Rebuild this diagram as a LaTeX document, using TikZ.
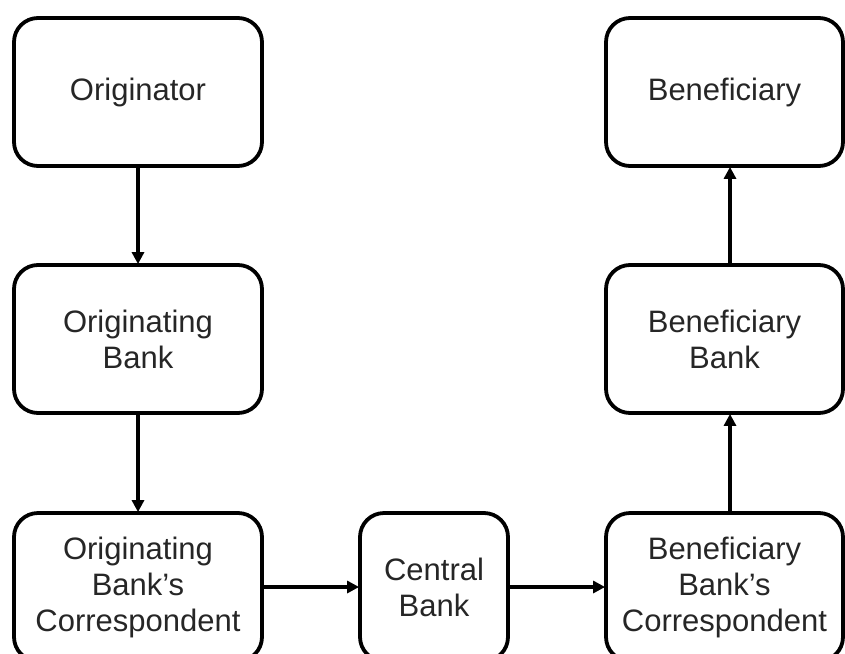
\documentclass[tikz,border=0pt]{standalone}
\usepackage{fontspec}
\setmainfont{Liberation Sans}
\usetikzlibrary{arrows.meta}
\begin{document}
\begin{tikzpicture}[x=1pt,y=-1pt,
  box/.style={draw=black, line width=3.8pt, rounded corners=24pt, minimum width=#1, minimum height=148pt, inner sep=0pt, align=center, text=black!85, font=\fontsize{31}{36}\selectfont},
  box/.default=248pt,
  arr/.style={draw=black, line width=3.5pt, -{Triangle[length=12pt,width=12pt]}, shorten >=-1pt}]
\useasboundingbox (0,0) rectangle (845,653);
\clip (0,0) rectangle (845,653);
\node[box] (orig) at (138,92) {Originator};
\node[box] (ob) at (138,339) {Originating\\Bank};
\node[box] (obc) at (138,587) {Originating\\Bank’s\\Correspondent};
\node[box=148pt] (cb) at (434,587) {Central\\Bank};
\node[box=237pt] (bbc) at (724.5,587) {Beneficiary\\Bank’s\\Correspondent};
\node[box=237pt] (bb) at (724.5,339) {Beneficiary\\Bank};
\node[box=237pt] (ben) at (724.5,92) {Beneficiary};
\draw[arr] (orig.south) -- (ob.north);
\draw[arr] (ob.south) -- (obc.north);
\draw[arr] (obc.east) -- (cb.west);
\draw[arr] (cb.east) -- (bbc.west);
\draw[arr] ([xshift=5.5pt]bbc.north) -- ([xshift=5.5pt]bb.south);
\draw[arr] ([xshift=5.5pt]bb.north) -- ([xshift=5.5pt]ben.south);
\end{tikzpicture}
\end{document}
